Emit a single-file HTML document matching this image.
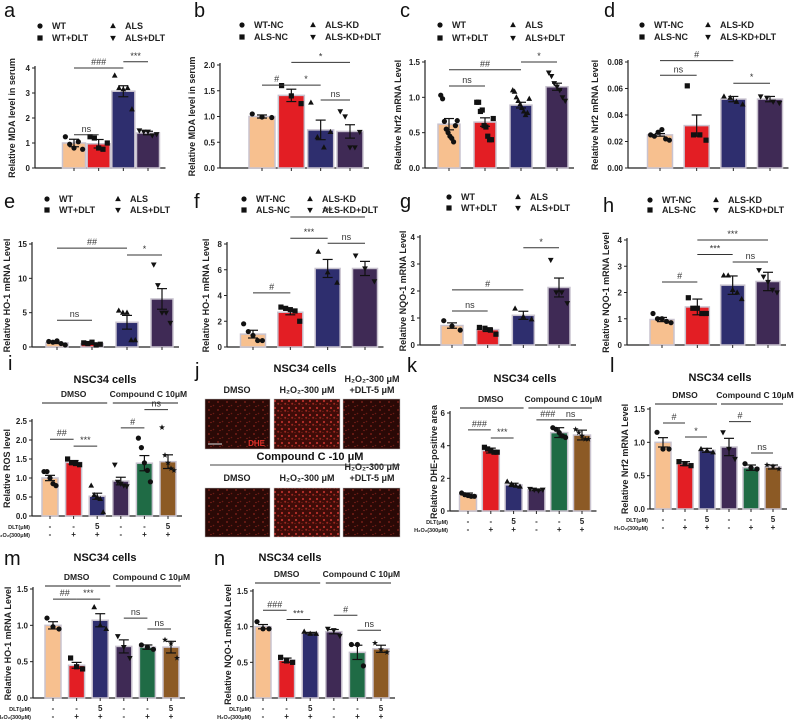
<!DOCTYPE html>
<html><head><meta charset="utf-8">
<style>
body{margin:0;background:#fff;}
svg{display:block;font-family:"Liberation Sans",Arial,sans-serif;}
.tk{font-size:8px;font-weight:bold;fill:#222;}
.yt{font-size:9px;font-weight:bold;fill:#222;}
.lg{font-size:9px;font-weight:bold;fill:#222;}
.pl{font-size:20px;fill:#111;}
.ti{font-size:11px;font-weight:bold;fill:#111;}
.sg{font-size:9px;fill:#333;}
.gp{font-size:8.5px;font-weight:bold;fill:#222;}
</style></head>
<body>
<svg id="fig" width="800" height="723" viewBox="0 0 800 723">
<defs>
<pattern id="cells1" width="9" height="8" patternUnits="userSpaceOnUse">
<rect width="9" height="8" fill="#2a0906"/><circle cx="2" cy="2" r="0.9" fill="#8a241c"/><circle cx="6.5" cy="5.5" r="0.8" fill="#6a1a14"/><circle cx="4" cy="6.5" r="0.6" fill="#9a2a20"/>
</pattern>
<pattern id="cells2" width="7" height="7" patternUnits="userSpaceOnUse">
<rect width="7" height="7" fill="#3e0c08"/><circle cx="2" cy="2" r="1.1" fill="#b8302a"/><circle cx="5.2" cy="4.8" r="1.0" fill="#a02820"/><circle cx="1" cy="5.5" r="0.6" fill="#8a221a"/>
</pattern>
</defs>
</svg>
<script>
// ---- data ----
const grp4 = ["WT","WT+DLT","ALS","ALS+DLT"];
const grp4kd = ["WT-NC","ALS-NC","ALS-KD","ALS-KD+DLT"];
const aMeans=[1.0,0.97,3.07,1.4]; const aErr=[0.15,0.17,0.22,0.07];
const aPts=[[1.25,0.95,0.8,1.05,0.75],[1.25,1.2,0.8,0.75,1.0],[3.7,3.2,3.15,3.2,2.35],[1.5,1.45,1.45,1.3,1.35]];
const bMeans=[1.0,1.41,0.74,0.71]; const bErr=[0.03,0.12,0.19,0.13];
const bPts=[[1.05,0.99,0.98],[1.6,1.4,1.25],[1.27,0.6,0.4,0.7],[1.1,1.0,0.4,0.4,0.7]];
const cMeans=[0.62,0.65,0.89,1.15]; const cErr=[0.08,0.06,0.04,0.05];
const cPts=[[1.03,0.98,0.66,0.55,0.5,0.45,0.42,0.37,0.6,0.67],[0.93,0.93,0.8,0.82,0.6,0.58,0.45,0.4,0.4,0.7],[1.1,1.08,1.0,0.95,0.9,0.85,0.8,0.75,0.78,0.98],[1.35,1.3,1.2,1.15,1.1,1.0,0.95]];
const dMeans=[0.025,0.032,0.052,0.052]; const dErr=[0.001,0.008,0.002,0.002];
const dPts=[[0.025,0.024,0.027,0.029,0.022,0.021],[0.062,0.025,0.025,0.021],[0.054,0.053,0.05,0.048],[0.054,0.053,0.05,0.049]];
const eMeans=[0.6,0.5,3.6,7.0]; const eErr=[0.1,0.1,1.0,1.5];
const ePts=[[0.8,0.7,0.9,0.5,0.3],[0.6,0.5,0.7,0.3,0.4],[5.3,5.0,5.0,1.0,1.0],[12,9,5,5,3.5]];
const fMeans=[1.0,2.7,6.1,6.1]; const fErr=[0.3,0.2,0.7,0.55];
const fPts=[[1.8,1.2,0.9,0.5,0.5],[3.1,3.0,2.9,2.8,2.0],[7.4,5.8,5.0],[7.1,6.1,5.1]];
const gMeans=[0.72,0.57,1.1,2.13]; const gErr=[0.1,0.07,0.15,0.35];
const gPts=[[0.9,0.7,0.55],[0.65,0.62,0.55,0.4],[1.35,1.05,0.95],[3.15,1.95,1.95,1.55]];
const hMeans=[0.97,1.45,2.28,2.42]; const hErr=[0.08,0.3,0.35,0.35];
const hPts=[[1.2,1.0,1.0,0.9,0.85],[1.8,1.4,1.4,1.2,1.2],[2.65,2.65,2.1,2.0,1.75],[2.85,2.6,2.4,2.1,2.0]];
const iMeans=[1.0,1.41,0.52,0.92,1.39,1.43]; const iErr=[0.07,0.05,0.08,0.1,0.2,0.18];
const iPts=[[1.17,1.17,1.0,0.85,0.8],[1.5,1.4,1.38,1.35],[0.8,0.55,0.5,0.45,0.1],[1.35,0.9,0.85,0.8,0.78],[2.05,1.8,1.4,1.2,0.9],[2.33,1.6,1.4,1.25,1.2]];
const kMeans=[1.0,3.7,1.6,1.3,4.8,4.65]; const kErr=[0.1,0.15,0.1,0.05,0.3,0.3];
const kPts=[[1.1,1.0,0.95,0.9,0.9],[3.9,3.8,3.7,3.6,3.6],[1.8,1.65,1.55,1.5],[1.35,1.3,1.25,1.3],[5.1,5.0,4.8,4.6,4.5],[5.0,4.8,4.6,4.4,4.4]];
const lMeans=[1.0,0.68,0.88,0.93,0.62,0.63]; const lErr=[0.07,0.03,0.03,0.13,0.04,0.03];
const lPts=[[1.15,0.9,0.9],[0.71,0.68,0.65],[0.9,0.88,0.85],[1.15,0.9,0.75],[0.68,0.62,0.6],[0.66,0.64,0.6]];
const mMeans=[1.0,0.45,1.07,0.71,0.7,0.7]; const mErr=[0.05,0.04,0.09,0.09,0.03,0.08];
const mPts=[[1.1,0.98,0.95],[0.55,0.43,0.4],[1.25,1.0,0.95],[0.85,0.7,0.55],[0.73,0.7,0.67],[0.8,0.75,0.55]];
const nMeans=[1.0,0.53,0.91,0.93,0.64,0.69]; const nErr=[0.03,0.03,0.01,0.03,0.1,0.05];
const nPts=[[1.07,0.97,0.97],[0.57,0.52,0.5],[0.93,0.9,0.9],[0.97,0.95,0.87],[0.75,0.75,0.45],[0.77,0.68,0.64]];

const colors4=["#f7c08f","#e31e24","#2e2e6e","#3f2a55"];
const colors6=["#f7c08f","#e31e24","#2e2e6e","#3f2a55","#1f6b45","#8c5a25"];
const shapes4=["circle","square","tri","tridown"];
const shapes6=["circle","square","tri","tridown","circle","star"];

const svg=document.getElementById('fig');
const NS="http://www.w3.org/2000/svg";
function mk(tag,attrs,parent){const e=document.createElementNS(NS,tag);for(const k in attrs)e.setAttribute(k,attrs[k]);(parent||svg).appendChild(e);return e;}
function txt(x,y,s,cls,anchor,parent){const t=mk('text',{x:x,y:y,class:cls,'text-anchor':anchor||'start'},parent);t.textContent=s;return t;}
function marker(g,shape,x,y,r){
  let e;
  if(shape==="circle")e=mk('circle',{cx:x,cy:y,r:r},g);
  else if(shape==="square")e=mk('rect',{x:x-r,y:y-r,width:2*r,height:2*r},g);
  else if(shape==="tri")e=mk('polygon',{points:`${x},${y-r*1.2} ${x-r*1.1},${y+r*0.8} ${x+r*1.1},${y+r*0.8}`},g);
  else if(shape==="tridown")e=mk('polygon',{points:`${x},${y+r*1.2} ${x-r*1.1},${y-r*0.8} ${x+r*1.1},${y-r*0.8}`},g);
  else {let p=[];for(let k=0;k<10;k++){const a=-Math.PI/2+k*Math.PI/5;const rr=k%2?r*0.5:r*1.2;p.push((x+rr*Math.cos(a)).toFixed(1)+","+(y+rr*Math.sin(a)).toFixed(1));}e=mk('polygon',{points:p.join(' ')},g);}
  e.setAttribute('fill','#111');
  return e;
}
function panel(c){
  const g=mk('g',{});
  
  
  const y=v=>c.y0-(v/c.ymax)*(c.y0-c.ytop);
  const n=c.means.length;
  const xc=i=>c.x1+(c.x2-c.x1)*i/(n-1);
  const ax=mk('line',{x1:c.ax,y1:c.ytop-2,x2:c.ax,y2:c.y0,stroke:'#222','stroke-width':1.2},g);
  
  
  mk('line',{x1:c.ax,y1:c.y0,x2:c.x2+c.bw/2+6,y2:c.y0,stroke:'#222','stroke-width':1.2},g);
  c.ticks.forEach((t,k)=>{const yy=y(t);mk('line',{x1:c.ax-3,y1:yy,x2:c.ax,y2:yy,stroke:'#222'},g);
    const tl=txt(c.ax-5,yy+3,c.tickLabels[k],'tk','end',g);
    
    });
  const yt=txt(0,0,c.ytitle,'yt','middle',g);
  yt.setAttribute('transform',`translate(${c.ax-(c.ytOff||24)},${(c.ytop+c.y0)/2}) rotate(-90)`);
  
  
  const cols=n===4?colors4:colors6, shp=n===4?shapes4:shapes6;
  c.means.forEach((m,i)=>{
    const x=xc(i);
    const b=mk('rect',{x:x-c.bw/2,y:y(m),width:c.bw,height:c.y0-y(m),fill:cols[i],stroke:'#c9c3cf','stroke-width':1.5},g);
    
    
    mk('line',{x1:x,y1:c.y0,x2:x,y2:c.y0+3,stroke:'#222'},g);
    const e1=y(m+c.err[i]), e0=y(m-c.err[i]);
    mk('line',{x1:x,y1:e1,x2:x,y2:e0,stroke:'#111','stroke-width':1.2},g);
    mk('line',{x1:x-5,y1:e1,x2:x+5,y2:e1,stroke:'#111','stroke-width':1.2},g);
    mk('line',{x1:x-5,y1:e0,x2:x+5,y2:e0,stroke:'#111','stroke-width':1.2},g);
    const pts=c.pts[i];
    pts.forEach((p,j)=>{const off=pts.length>1?(j/(pts.length-1)-0.5)*c.bw*0.75:0;marker(g,shp[i],x+off,y(p),2.6);});
  });
  c.sig.forEach(s=>{const yy=y(s[3]);const xa=xc(s[0]),xb=xc(s[1]);
    mk('line',{x1:xa,y1:yy,x2:xb,y2:yy,stroke:'#333','stroke-width':1},g);
    const st=txt((xa+xb)/2,yy-3,s[2],'sg','middle',g);
    
    });
  if(c.legend){const L=c.legend;
    L.labels.forEach((lb,i)=>{const lx=i<2?L.x1:L.x2, ly=i%2===0?L.ya:L.yb;
      marker(g,shapes4[i],lx,ly-3,2.6);
      const t=txt(lx+12,ly,lb,'lg','start',g);
      
      });
  }
  if(c.groups){
    const gy=c.groups;
    mk('line',{x1:xc(0)-8,y1:gy,x2:xc(2)+10,y2:gy,stroke:'#222','stroke-width':1},g);
    mk('line',{x1:xc(3)-8,y1:gy,x2:xc(5)+10,y2:gy,stroke:'#222','stroke-width':1},g);
    txt((xc(0)+xc(2))/2,gy-6,'DMSO','gp','middle',g);
    txt((xc(3)+xc(5))/2+4,gy-6,'Compound C 10μM','gp','middle',g);
    const dlt=['-','-','5','-','-','5'], h2=['-','+','+','-','+','+'];
    txt(c.ax-2,c.y0+13,'DLT(μM)','tk','end',g).style.fontSize='5.5px';
    txt(c.ax-2,c.y0+21,'H₂O₂(300μM)','tk','end',g).style.fontSize='5.5px';
    for(let i=0;i<6;i++){txt(xc(i),c.y0+13,dlt[i],'tk','middle',g);txt(xc(i),c.y0+21,h2[i],'tk','middle',g);}
    const ti=txt(c.titleX,c.titleY,'NSC34 cells','ti','middle',g);
    
    
  }
  const pl=txt(c.lx,c.ly,c.label,'pl','start',g);
  
  
}
panel({name:'panel-a',label:'a',lx:4,ly:17,ax:35,ytop:68,y0:168,ymax:4,x1:74,x2:148,bw:23,means:aMeans,err:aErr,pts:aPts,ticks:[0,1,2,3,4],tickLabels:['0','1','2','3','4'],ytitle:'Relative MDA level in serum',ytOff:20,
  sig:[[0,2,'###',4.0],[2,3,'***',4.25],[0,1,'ns',1.33]],legend:{labels:grp4,x1:40,x2:113,ya:29,yb:41}});
panel({name:'panel-b',label:'b',lx:194,ly:17,ax:220,ytop:65,y0:168,ymax:2,x1:262,x2:350,bw:26,means:bMeans,err:bErr,pts:bPts,ticks:[0,0.5,1,1.5,2],tickLabels:['0.0','0.5','1.0','1.5','2.0'],ytitle:'Relative MDA level in serum',ytOff:25,
  sig:[[0,1,'#',1.61],[1,2,'*',1.61],[1,3,'*',2.05],[2,3,'ns',1.32]],legend:{labels:grp4kd,x1:242,x2:313,ya:28,yb:40}});
panel({name:'panel-c',label:'c',lx:400,ly:17,ax:425,ytop:62,y0:168,ymax:1.5,x1:449,x2:557,bw:22,means:cMeans,err:cErr,pts:cPts,ticks:[0,0.5,1,1.5],tickLabels:['0.0','0.5','1.0','1.5'],ytitle:'Relative Nrf2 mRNA Level',ytOff:24,
  sig:[[0,2,'##',1.39],[2,3,'*',1.5],[0,1,'ns',1.16]],legend:{labels:grp4,x1:440,x2:513,ya:28,yb:41}});
panel({name:'panel-d',label:'d',lx:604,ly:17,ax:628,ytop:62,y0:168,ymax:0.08,x1:660,x2:770,bw:25,means:dMeans,err:dErr,pts:dPts,ticks:[0,0.02,0.04,0.06,0.08],tickLabels:['0.00','0.02','0.04','0.06','0.08'],ytitle:'Relative Nrf2 mRNA Level',ytOff:30,
  sig:[[0,2,'#',0.081],[0,1,'ns',0.07],[2,3,'*',0.064]],legend:{labels:grp4kd,x1:642,x2:708,ya:28,yb:40}});
panel({name:'panel-e',label:'e',lx:4,ly:208,ax:32,ytop:244,y0:347,ymax:15,x1:57,x2:162,bw:22,means:eMeans,err:eErr,pts:ePts,ticks:[0,5,10,15],tickLabels:['0','5','10','15'],ytitle:'Relative HO-1 mRNA Level',ytOff:22,
  sig:[[0,2,'##',14.4],[2,3,'*',13.4],[0,1,'ns',3.9]],legend:{labels:grp4,x1:47,x2:118,ya:202,yb:213}});
panel({name:'panel-f',label:'f',lx:194,ly:208,ax:227,ytop:244,y0:347,ymax:8,x1:253,x2:365,bw:25,means:fMeans,err:fErr,pts:fPts,ticks:[0,2,4,6,8],tickLabels:['0','2','4','6','8'],ytitle:'Relative HO-1 mRNA Level',ytOff:18,
  sig:[[1,3,'***',10.1],[1,2,'***',8.45],[2,3,'ns',8.06],[0,1,'#',4.2]],legend:{labels:grp4kd,x1:244,x2:310,ya:202,yb:213}});
panel({name:'panel-g',label:'g',lx:400,ly:208,ax:420,ytop:237,y0:345,ymax:4,x1:452,x2:559,bw:22,means:gMeans,err:gErr,pts:gPts,ticks:[0,1,2,3,4],tickLabels:['0','1','2','3','4'],ytitle:'Relative NQO-1 mRNA Level',ytOff:14,
  sig:[[2,3,'*',3.6],[0,2,'#',2.04],[0,1,'ns',1.26]],legend:{labels:grp4,x1:449,x2:518,ya:200,yb:211}});
panel({name:'panel-h',label:'h',lx:603,ly:212,ax:627,ytop:240,y0:345,ymax:4,x1:662,x2:768,bw:24,means:hMeans,err:hErr,pts:hPts,ticks:[0,1,2,3,4],tickLabels:['0','1','2','3','4'],ytitle:'Relative NQO-1 mRNA Level',ytOff:18,
  sig:[[1,3,'***',4.0],[1,2,'***',3.45],[2,3,'ns',3.16],[0,1,'#',2.4]],legend:{labels:grp4kd,x1:650,x2:716,ya:203,yb:213}});
panel({name:'panel-i',label:'i',lx:8,ly:370,ax:32,ytop:421,y0:516,ymax:2.5,x1:50,x2:168,bw:16,means:iMeans,err:iErr,pts:iPts,ticks:[0,0.5,1,1.5,2,2.5],tickLabels:['0.0','0.5','1.0','1.5','2.0','2.5'],ytitle:'Relative ROS level',ytOff:22,
  sig:[[0,1,'##',2.02],[1,2,'***',1.84],[3,4,'#',2.32],[4,5,'ns',2.8]],groups:403,titleX:105,titleY:383});
panel({name:'panel-k',label:'k',lx:407,ly:372,ax:450,ytop:413,y0:511,ymax:6,x1:468,x2:582,bw:17,means:kMeans,err:kErr,pts:kPts,ticks:[0,2,4,6],tickLabels:['0','2','4','6'],ytitle:'Relative DHE-positive area',ytOff:13,
  sig:[[0,1,'###',4.97],[1,2,'***',4.47],[3,4,'###',5.58],[4,5,'ns',5.58]],groups:408,titleX:525,titleY:382});
panel({name:'panel-l',label:'l',lx:610,ly:372,ax:650,ytop:409,y0:509,ymax:1.5,x1:663,x2:773,bw:16,means:lMeans,err:lErr,pts:lPts,ticks:[0,0.5,1,1.5],tickLabels:['0.0','0.5','1.0','1.5'],ytitle:'Relative Nrf2 mRNA Level',ytOff:22,
  sig:[[0,1,'#',1.29],[1,2,'*',1.08],[3,4,'#',1.31],[4,5,'ns',0.84]],groups:404,titleX:720,titleY:381});
panel({name:'panel-m',label:'m',lx:4,ly:565,ax:33,ytop:589,y0:698,ymax:1.5,x1:53,x2:171,bw:16,means:mMeans,err:mErr,pts:mPts,ticks:[0,0.5,1,1.5],tickLabels:['0.0','0.5','1.0','1.5'],ytitle:'Relative HO-1 mRNA Level',ytOff:22,
  sig:[[0,1,'##',1.36],[1,2,'***',1.36],[3,4,'ns',1.1],[4,5,'ns',0.95]],groups:586,titleX:105,titleY:561});
panel({name:'panel-n',label:'n',lx:214,ly:565,ax:253,ytop:591,y0:698,ymax:1.5,x1:263,x2:381,bw:16,means:nMeans,err:nErr,pts:nPts,ticks:[0,0.5,1,1.5],tickLabels:['0.0','0.5','1.0','1.5'],ytitle:'Relative NQO-1 mRNA Level',ytOff:22,
  sig:[[0,1,'###',1.23],[1,2,'***',1.1],[3,4,'#',1.16],[4,5,'ns',0.95]],groups:583,titleX:290,titleY:561});

(function(){
  const g=mk('g',{});
  
  
  txt(195,377,'j','pl','start',g);
  txt(305,372,'NSC34 cells','ti','middle',g);
  const xs=[[205,270],[274,340],[343,400]];
  const fills=['url(#cells1)','url(#cells2)','url(#cells1)'];
  [[399,449],[488,537]].forEach((r)=>{xs.forEach((c,ci)=>{
    const im=mk('rect',{x:c[0],y:r[0],width:c[1]-c[0],height:r[1]-r[0],fill:fills[ci],stroke:'#bbb','stroke-width':0.5},g);
    
    });});
  mk('line',{x1:208,y1:444,x2:222,y2:444,stroke:'#ddd','stroke-width':1},g);
  const d=txt(265,446,'DHE','tk','end',g);d.style.fill='#e0302a';
  [393,481].forEach(ry=>{
    txt(237,ry,'DMSO','lg','middle',g);
    txt(307,ry,'H₂O₂-300 μM','lg','middle',g);
    txt(372,ry-11,'H₂O₂-300 μM','lg','middle',g);
    txt(372,ry,'+DLT-5 μM','lg','middle',g);
  });
  txt(310,460,'Compound C -10 μM','ti','middle',g);
  mk('line',{x1:210,y1:465,x2:400,y2:465,stroke:'#444','stroke-width':1},g);
})();
</script>
</body></html>
